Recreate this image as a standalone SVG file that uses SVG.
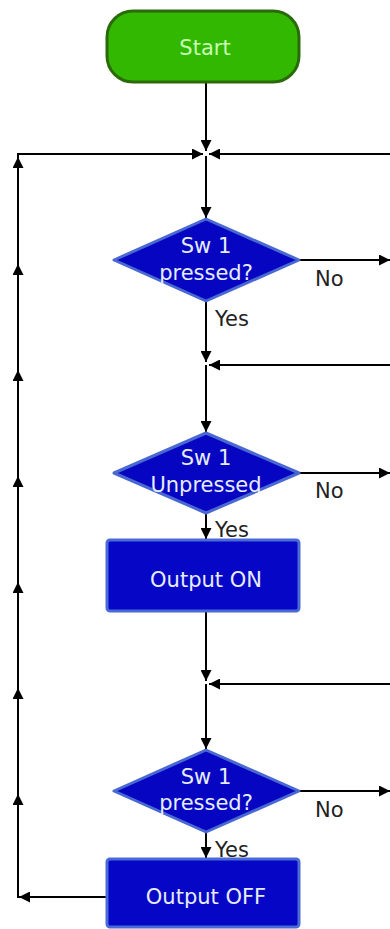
<svg xmlns="http://www.w3.org/2000/svg" width="390" height="929" viewBox="0 0 390 929">
<defs>
<marker id="ah" viewBox="0 0 10 10" refX="10" refY="5" markerWidth="11" markerHeight="11" markerUnits="userSpaceOnUse" orient="auto">
<path d="M0,0 L10,5 L0,10 Z" fill="#000"/>
</marker>
<style>
.c{fill:none;stroke:#000;stroke-width:2}
.a{marker-end:url(#ah)}
.dia{fill:#0505c2;stroke:#4a68d2;stroke-width:3;stroke-linejoin:round}
.box{fill:#0606c6;stroke:#4a6ad8;stroke-width:3}
.t{font-family:"DejaVu Sans",Verdana,sans-serif;font-size:21px;fill:#e6ecff;text-anchor:middle}
.lb{font-family:"DejaVu Sans",Verdana,sans-serif;font-size:21px;fill:#222}
</style>
</defs>
<rect width="390" height="929" fill="#fff"/>
<g id="connectors">
<path class="c a" d="M206,83 V151"/>
<path class="c a" d="M18,154 H203"/>
<path class="c a" d="M390,154 H209"/>
<path class="c a" d="M206,156 V218"/>
<path class="c a" d="M300,260 H390"/>
<path class="c a" d="M206,302 V362"/>
<path class="c a" d="M390,365 H209"/>
<path class="c a" d="M206,365 V432"/>
<path class="c a" d="M300,473 H390"/>
<path class="c a" d="M206,514 V539"/>
<path class="c a" d="M206,612 V681"/>
<path class="c a" d="M390,684 H209"/>
<path class="c a" d="M206,684 V749"/>
<path class="c a" d="M300,791 H390"/>
<path class="c a" d="M206,833 V858"/>
<path class="c a" d="M107,897 H19"/>
<path class="c a" d="M18,898 V794"/>
<path class="c a" d="M18,794 V688"/>
<path class="c a" d="M18,688 V582"/>
<path class="c a" d="M18,582 V476"/>
<path class="c a" d="M18,476 V370"/>
<path class="c a" d="M18,370 V264"/>
<path class="c a" d="M18,264 V157"/>
<path class="c" d="M18,158 V153"/>
</g>
<g id="start">
<rect x="107" y="11" width="192" height="71" rx="26" ry="26" fill="#33b800" stroke="#2a6a0a" stroke-width="3"/>
<text class="t" x="205" y="55" style="fill:#c8ffb4">Start</text>
</g>
<g id="decision1">
<polygon class="dia" points="114,260 206,219 299,260 206,301"/>
<text class="t" x="206" y="253">Sw 1</text>
<text class="t" x="206" y="280">pressed?</text>
<text class="lb" x="315" y="286">No</text>
<text class="lb" x="215" y="326">Yes</text>
</g>
<g id="decision2">
<polygon class="dia" points="114,473 206,433 299,473 206,513"/>
<text class="t" x="206" y="465">Sw 1</text>
<text class="t" x="206" y="492">Unpressed</text>
<text class="lb" x="315" y="498">No</text>
<text class="lb" x="215" y="537">Yes</text>
</g>
<g id="outputOn">
<rect class="box" x="107" y="540" width="192" height="71" rx="3"/>
<text class="t" x="206" y="587">Output ON</text>
</g>
<g id="decision3">
<polygon class="dia" points="114,791 206,750 299,791 206,832"/>
<text class="t" x="206" y="784">Sw 1</text>
<text class="t" x="206" y="810">pressed?</text>
<text class="lb" x="315" y="817">No</text>
<text class="lb" x="215" y="857">Yes</text>
</g>
<g id="outputOff">
<rect class="box" x="107" y="859" width="192" height="68" rx="3"/>
<text class="t" x="206" y="904">Output OFF</text>
</g>
</svg>
